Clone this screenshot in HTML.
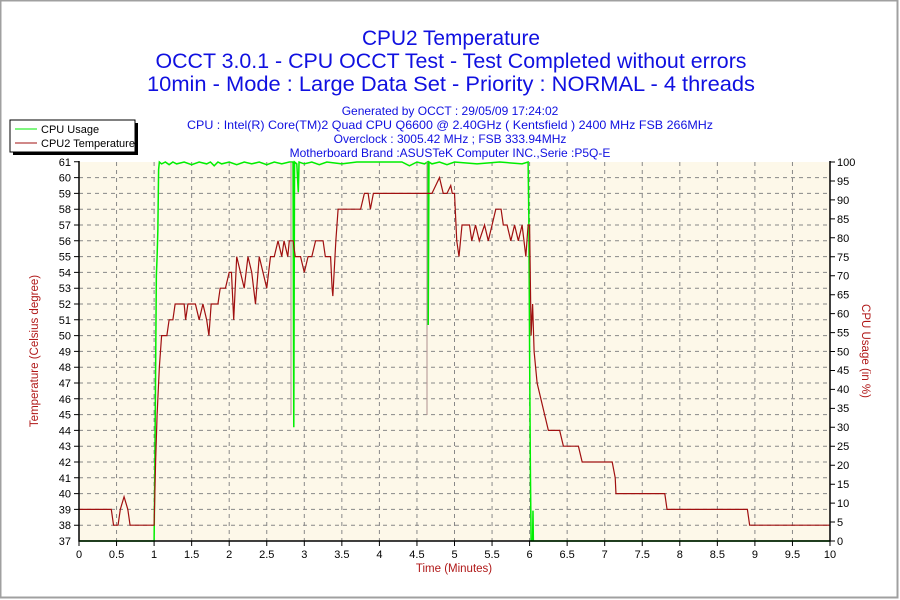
<!DOCTYPE html>
<html><head><meta charset="utf-8"><style>
html,body{margin:0;padding:0;background:#fff}
svg{display:block;font-family:"Liberation Sans",Arial,sans-serif}
</style></head><body>
<svg width="900" height="600" viewBox="0 0 900 600">
<rect x="0" y="0" width="900" height="600" fill="#fff"/>
<rect x="0.5" y="0.5" width="897" height="597" fill="none" stroke="#a0a0a0" stroke-width="2"/>
<g fill="#1010e0" text-anchor="middle">
<text x="451" y="45" font-size="21" textLength="178" lengthAdjust="spacingAndGlyphs">CPU2 Temperature</text>
<text x="451" y="68" font-size="21" textLength="591" lengthAdjust="spacingAndGlyphs">OCCT 3.0.1 - CPU OCCT Test - Test Completed without errors</text>
<text x="451" y="91" font-size="21" textLength="608" lengthAdjust="spacingAndGlyphs">10min - Mode : Large Data Set - Priority : NORMAL - 4 threads</text>
<text x="450" y="115" font-size="12">Generated by OCCT : 29/05/09 17:24:02</text>
<text x="450" y="129" font-size="12" textLength="526" lengthAdjust="spacingAndGlyphs">CPU : Intel(R) Core(TM)2 Quad CPU Q6600 @ 2.40GHz ( Kentsfield ) 2400 MHz FSB 266MHz</text>
<text x="450" y="143" font-size="12">Overclock : 3005.42 MHz ; FSB 333.94MHz</text>
<text x="450" y="157" font-size="12">Motherboard Brand :ASUSTeK Computer INC.,Serie :P5Q-E</text>
</g>
<rect x="13" y="123" width="125" height="32" fill="#000"/>
<rect x="10" y="120" width="125" height="32" fill="#fff" stroke="#000"/>
<line x1="15" y1="129" x2="37" y2="129" stroke="#00ee00"/>
<line x1="15" y1="143" x2="37" y2="143" stroke="#a01010"/>
<text x="41" y="133" font-size="11">CPU Usage</text>
<text x="41" y="147" font-size="11">CPU2 Temperature</text>
<rect x="79" y="162" width="751" height="379" fill="#fdf8e9"/>
<path stroke="#888" stroke-dasharray="4,4" fill="none" d="
M79 177.6H830M79 193.4H830M79 209.2H830M79 225H830M79 240.8H830M79 256.6H830M79 272.4H830M79 288.2H830M79 304H830M79 319.8H830M79 335.6H830M79 351.4H830M79 367.2H830M79 383H830M79 398.8H830M79 414.6H830M79 430.4H830M79 446.2H830M79 462H830M79 477.8H830M79 493.6H830M79 509.4H830M79 525.2H830
M116.55 162V541M154.1 162V541M191.65 162V541M229.2 162V541M266.75 162V541M304.3 162V541M341.85 162V541M379.4 162V541M416.95 162V541M454.5 162V541M492.05 162V541M529.6 162V541M567.15 162V541M604.7 162V541M642.25 162V541M679.8 162V541M717.35 162V541M754.9 162V541M792.45 162V541"/>
<g transform="translate(79,541) scale(75.1,-3.79)">
<polyline fill="none" stroke="#00ee00" stroke-width="1.5" vector-effect="non-scaling-stroke" points="
0,0 1.0,0 1.01,20 1.02,45 1.03,70 1.04,75 1.05,82 1.06,98 1.07,100 1.1,99.5 1.15,100 1.2,99.3 1.25,100 1.3,99.5 1.4,100 1.5,99.3 1.6,100 1.7,99.5 1.75,100 1.8,99 1.85,100 1.9,99.5 2.0,100 2.1,99.3 2.2,100 2.3,99.5 2.4,100 2.5,99.3 2.6,100 2.7,99.5 2.8,100 2.85,100 2.86,30 2.87,100 2.9,99.5 2.92,92 2.93,100 3.0,99.5 3.1,100 3.2,99.3 3.3,100 3.5,99.5 3.7,100 4.0,100 4.3,100 4.4,99 4.5,100 4.6,99.5 4.64,100 4.65,57 4.66,100 4.7,99.5 4.8,100 4.9,99.3 5.0,100 5.3,99.5 5.6,100 5.9,99.5 5.98,100 5.99,85 6.0,50 6.01,20 6.02,0 6.04,0 6.045,8 6.05,0 10,0"/>
</g>
<line x1="291" y1="162" x2="291" y2="415" stroke="#b09090"/>
<line x1="427" y1="162" x2="427" y2="415" stroke="#b09090"/>
<g transform="translate(79,541) scale(75.1,-15.8) translate(0,-37)">
<polyline fill="none" stroke="#a01010" stroke-width="1.2" vector-effect="non-scaling-stroke" points="
0,39 0.43,39 0.46,38 0.52,38 0.55,39 0.6,39.8 0.65,39 0.68,38 1.0,38 1.02,42 1.04,45 1.07,48 1.1,50 1.17,50 1.2,51 1.25,51 1.28,52 1.4,52 1.42,51 1.45,52 1.55,52 1.6,51 1.65,52 1.7,51 1.73,50 1.76,52 1.85,52 1.88,53 1.95,53 2.0,54 2.03,54 2.06,51 2.1,55 2.15,54 2.2,53 2.25,55 2.3,54 2.35,52 2.4,55 2.45,54 2.5,53 2.55,55 2.6,55 2.65,56 2.7,55 2.73,56 2.78,55 2.8,56 2.85,56 2.88,55 2.95,55 3.0,54 3.05,55 3.1,55 3.15,56 3.25,56 3.28,55 3.35,55 3.37,53 3.38,52.5 3.42,56 3.45,58 3.75,58 3.8,59 3.85,59 3.88,58 3.92,59 4.2,59 4.5,59 4.7,59 4.75,59.5 4.8,60 4.85,59 4.9,59 4.95,59.5 4.97,59 5.0,59 5.03,56 5.06,55 5.1,57 5.2,57 5.23,56 5.28,57 5.33,56 5.4,57 5.45,56 5.5,57 5.55,58 5.62,58 5.65,57 5.7,57 5.75,56 5.8,57 5.85,56 5.9,57 5.95,55 5.98,57 6.0,57 6.02,50 6.04,52 6.06,49 6.1,47 6.15,46 6.2,45 6.25,44 6.4,44 6.45,43 6.65,43 6.7,42 7.1,42 7.14,41 7.15,40 7.8,40 7.83,39 8.9,39 8.93,38 10,38"/>
</g>
<path d="M79 161V541H830V161" fill="none" stroke="#000" stroke-width="1.5"/>
<path stroke="#000" d="M74 161.8H79M74 177.6H79M74 193.4H79M74 209.2H79M74 225H79M74 240.8H79M74 256.6H79M74 272.4H79M74 288.2H79M74 304H79M74 319.8H79M74 335.6H79M74 351.4H79M74 367.2H79M74 383H79M74 398.8H79M74 414.6H79M74 430.4H79M74 446.2H79M74 462H79M74 477.8H79M74 493.6H79M74 509.4H79M74 525.2H79
M830 541H835M830 522H835M830 503.1H835M830 484.2H835M830 465.2H835M830 446.3H835M830 427.3H835M830 408.4H835M830 389.4H835M830 370.5H835M830 351.5H835M830 332.6H835M830 313.6H835M830 294.7H835M830 275.7H835M830 256.8H835M830 237.8H835M830 218.9H835M830 199.9H835M830 181H835M830 162H835
M79 541V546M116.55 541V546M154.1 541V546M191.65 541V546M229.2 541V546M266.75 541V546M304.3 541V546M341.85 541V546M379.4 541V546M416.95 541V546M454.5 541V546M492.05 541V546M529.6 541V546M567.15 541V546M604.7 541V546M642.25 541V546M679.8 541V546M717.35 541V546M754.9 541V546M792.45 541V546M830 541V546"/>
<g font-size="11" text-anchor="end">
<text x="71" y="166">61</text><text x="71" y="181.6">60</text><text x="71" y="197.4">59</text><text x="71" y="213.2">58</text><text x="71" y="229">57</text><text x="71" y="244.8">56</text><text x="71" y="260.6">55</text><text x="71" y="276.4">54</text><text x="71" y="292.2">53</text><text x="71" y="308">52</text><text x="71" y="323.8">51</text><text x="71" y="339.6">50</text><text x="71" y="355.4">49</text><text x="71" y="371.2">48</text><text x="71" y="387">47</text><text x="71" y="402.8">46</text><text x="71" y="418.6">45</text><text x="71" y="434.4">44</text><text x="71" y="450.2">43</text><text x="71" y="466">42</text><text x="71" y="481.8">41</text><text x="71" y="497.6">40</text><text x="71" y="513.4">39</text><text x="71" y="529.2">38</text><text x="71" y="545">37</text>
</g>
<g font-size="11" text-anchor="start">
<text x="837" y="545">0</text><text x="837" y="526">5</text><text x="837" y="507">10</text><text x="837" y="488">15</text><text x="837" y="469">20</text><text x="837" y="450">25</text><text x="837" y="431">30</text><text x="837" y="412">35</text><text x="837" y="393">40</text><text x="837" y="374">45</text><text x="837" y="355.5">50</text><text x="837" y="336.5">55</text><text x="837" y="317.6">60</text><text x="837" y="298.7">65</text><text x="837" y="279.7">70</text><text x="837" y="260.8">75</text><text x="837" y="241.8">80</text><text x="837" y="222.9">85</text><text x="837" y="203.9">90</text><text x="837" y="185">95</text><text x="837" y="166">100</text>
</g>
<g font-size="11" text-anchor="middle">
<text x="79" y="558">0</text><text x="116.55" y="558">0.5</text><text x="154.1" y="558">1</text><text x="191.65" y="558">1.5</text><text x="229.2" y="558">2</text><text x="266.75" y="558">2.5</text><text x="304.3" y="558">3</text><text x="341.85" y="558">3.5</text><text x="379.4" y="558">4</text><text x="416.95" y="558">4.5</text><text x="454.5" y="558">5</text><text x="492.05" y="558">5.5</text><text x="529.6" y="558">6</text><text x="567.15" y="558">6.5</text><text x="604.7" y="558">7</text><text x="642.25" y="558">7.5</text><text x="679.8" y="558">8</text><text x="717.35" y="558">8.5</text><text x="754.9" y="558">9</text><text x="792.45" y="558">9.5</text><text x="830" y="558">10</text>
</g>
<g fill="#b01818" font-size="11.5" text-anchor="middle">
<text x="454" y="572">Time (Minutes)</text>
<text transform="translate(38,351) rotate(-90)">Temperature (Celsius degree)</text>
<text transform="translate(862,351) rotate(90)">CPU Usage (in %)</text>
</g>
</svg>
</body></html>
